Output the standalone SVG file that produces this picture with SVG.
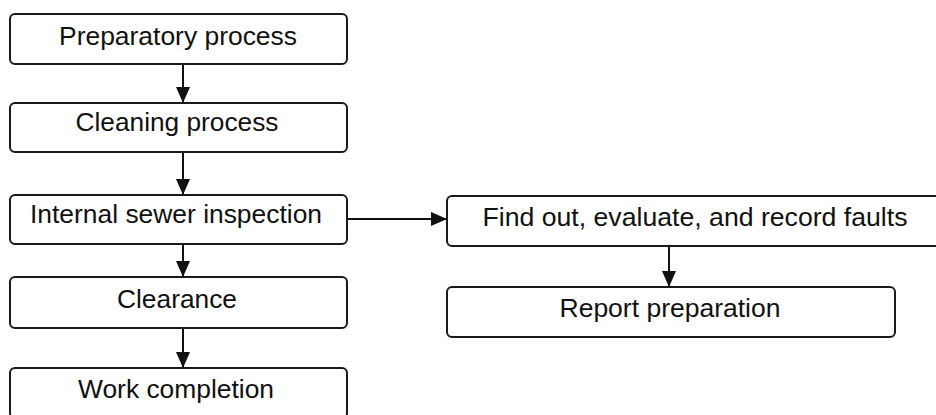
<svg xmlns="http://www.w3.org/2000/svg" width="936" height="415" viewBox="0 0 936 415">
<defs>
<style>
.box{fill:#fff;stroke:#1a1a1a;stroke-width:2}
.lbl{font-family:"Liberation Sans",Arial,sans-serif;font-size:25px;fill:#111;text-anchor:middle}
.edge{stroke:#111;stroke-width:2;fill:none}
</style>
<marker id="ah" markerWidth="16" markerHeight="14" refX="16" refY="7" orient="auto" markerUnits="userSpaceOnUse">
<path d="M0,0 L16,7 L0,14 Z" fill="#111"/>
</marker>
</defs>
<rect width="936" height="415" fill="#fff"/>
<g id="connectors">
<line class="edge" x1="183" y1="64" x2="183" y2="103" marker-end="url(#ah)"/>
<line class="edge" x1="183" y1="152" x2="183" y2="195" marker-end="url(#ah)"/>
<line class="edge" x1="183" y1="244" x2="183" y2="277" marker-end="url(#ah)"/>
<line class="edge" x1="183" y1="328" x2="183" y2="368" marker-end="url(#ah)"/>
<line class="edge" x1="347" y1="219" x2="447" y2="219" marker-end="url(#ah)"/>
<line class="edge" x1="669" y1="246" x2="669" y2="287" marker-end="url(#ah)"/>
</g>
<g id="n1"><rect class="box" x="10" y="14" width="337" height="50" rx="5"/><text class="lbl" x="178" y="45" textLength="238" lengthAdjust="spacingAndGlyphs">Preparatory process</text></g>
<g id="n2"><rect class="box" x="10" y="103" width="337" height="49" rx="5"/><text class="lbl" x="177" y="131" textLength="203" lengthAdjust="spacingAndGlyphs">Cleaning process</text></g>
<g id="n3"><rect class="box" x="10" y="195" width="337" height="49" rx="5"/><text class="lbl" x="176" y="223" textLength="292" lengthAdjust="spacingAndGlyphs">Internal sewer inspection</text></g>
<g id="n4"><rect class="box" x="10" y="277" width="337" height="51" rx="5"/><text class="lbl" x="177" y="308" textLength="120" lengthAdjust="spacingAndGlyphs">Clearance</text></g>
<g id="n5"><rect class="box" x="10" y="368" width="337" height="50" rx="5"/><text class="lbl" x="176" y="398" textLength="196" lengthAdjust="spacingAndGlyphs">Work completion</text></g>
<g id="n6"><rect class="box" x="447" y="196" width="500" height="50" rx="5"/><text class="lbl" x="695" y="226" textLength="425" lengthAdjust="spacingAndGlyphs">Find out, evaluate, and record faults</text></g>
<g id="n7"><rect class="box" x="447" y="287" width="448" height="50" rx="5"/><text class="lbl" x="670" y="317" textLength="221" lengthAdjust="spacingAndGlyphs">Report preparation</text></g>
</svg>
